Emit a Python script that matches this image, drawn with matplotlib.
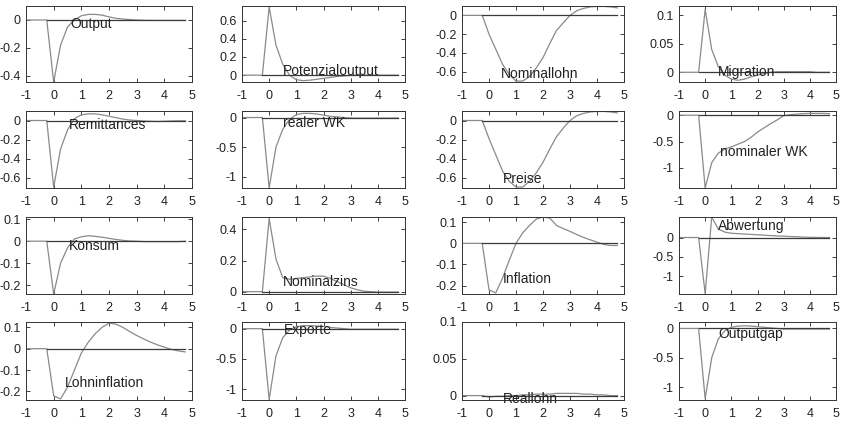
import numpy as np
import matplotlib
matplotlib.use('Agg')
import matplotlib.pyplot as plt

plt.rcParams['font.family'] = ['Liberation Sans', 'DejaVu Sans']
plt.rcParams['axes.unicode_minus'] = False

# quarters after the shock (years), -1 .. 4.75
quarters = np.arange(-1.0, 5.0, 0.25)

output = [0, 0, 0, 0, -0.443, -0.18, -0.05, 0.0, 0.03, 0.04, 0.04, 0.035, 0.022,
          0.012, 0.007, 0.003, 0.0, -0.002, -0.003, -0.003, -0.003, -0.003, -0.003, -0.003]
potenzialoutput = [0, 0, 0, 0, 0.75, 0.33, 0.12, 0.0, -0.05, -0.06, -0.055, -0.045, -0.035,
                   -0.025, -0.015, -0.008, -0.002, 0.0, 0.0, 0.0, 0.0, 0.0, 0.0, 0.0]
nominallohn = [0, 0, 0, 0, -0.2, -0.36, -0.52, -0.63, -0.7, -0.7, -0.65, -0.56, -0.45,
               -0.3, -0.16, -0.08, 0.0, 0.05, 0.075, 0.09, 0.095, 0.095, 0.09, 0.08]
migration = [0, 0, 0, 0, 0.11, 0.04, 0.01, -0.005, -0.012, -0.014, -0.012, -0.008, -0.005,
             -0.002, 0.0, 0.001, 0.001, 0.001, 0.001, 0.001, 0.001, 0.0, 0.0, 0.0]
remittances = [0, 0, 0, 0, -0.7, -0.3, -0.1, 0.02, 0.06, 0.07, 0.07, 0.06, 0.045,
               0.03, 0.015, 0.005, 0.0, -0.005, -0.008, -0.01, -0.008, -0.005, -0.003, -0.002]
realer_wk = [0, 0, 0, 0, -1.19, -0.5, -0.2, -0.03, 0.05, 0.07, 0.07, 0.06, 0.04,
             0.02, 0.01, 0.0, -0.01, -0.01, -0.01, -0.01, -0.01, -0.01, -0.01, -0.01]
preise = [0, 0, 0, 0, -0.19, -0.36, -0.53, -0.64, -0.7, -0.7, -0.64, -0.55, -0.44,
          -0.3, -0.17, -0.08, 0.0, 0.05, 0.075, 0.09, 0.095, 0.095, 0.09, 0.08]
nominaler_wk = [0, 0, 0, 0, -1.38, -0.9, -0.72, -0.64, -0.6, -0.55, -0.5, -0.42, -0.32,
                -0.24, -0.16, -0.09, -0.01, 0.01, 0.02, 0.03, 0.035, 0.035, 0.035, 0.03]
konsum = [0, 0, 0, 0, -0.24, -0.1, -0.03, 0.01, 0.02, 0.025, 0.022, 0.018, 0.013,
          0.008, 0.004, 0.001, 0.0, -0.002, -0.002, -0.002, -0.002, -0.002, -0.002, 0.0]
nominalzins = [0, 0, 0, 0, 0.47, 0.21, 0.09, 0.08, 0.085, 0.09, 0.095, 0.1, 0.1,
               0.085, 0.065, 0.045, 0.025, 0.012, 0.003, 0.0, -0.003, -0.003, -0.003, -0.003]
inflation = [0, 0, 0, 0, -0.22, -0.235, -0.165, -0.08, 0.0, 0.05, 0.085, 0.115, 0.125,
             0.12, 0.085, 0.07, 0.057, 0.042, 0.028, 0.017, 0.006, -0.005, -0.01, -0.01]
abwertung = [0, 0, 0, 0, -1.45, 0.53, 0.22, 0.14, 0.11, 0.1, 0.09, 0.08, 0.07,
             0.06, 0.05, 0.04, 0.035, 0.025, 0.02, 0.01, 0.005, 0.002, 0.0, 0.0]
lohninflation = [0, 0, 0, 0, -0.22, -0.235, -0.18, -0.1, -0.02, 0.03, 0.07, 0.1, 0.12,
                 0.115, 0.1, 0.08, 0.062, 0.046, 0.031, 0.018, 0.007, -0.003, -0.01, -0.015]
exporte = [0, 0, 0, 0, -1.17, -0.45, -0.15, -0.02, 0.03, 0.05, 0.05, 0.045, 0.035,
           0.02, 0.01, 0.0, -0.01, -0.01, -0.01, -0.01, -0.01, -0.01, -0.01, -0.01]
reallohn = [0, 0, 0, 0, -0.002, -0.001, -0.001, 0.0, 0.0, 0.001, 0.001, 0.002, 0.002,
            0.002, 0.003, 0.003, 0.003, 0.003, 0.002, 0.002, 0.001, 0.001, 0.0, 0.0]
outputgap = [0, 0, 0, 0, -1.2, -0.5, -0.18, -0.04, 0.02, 0.04, 0.045, 0.04, 0.03,
             0.02, 0.01, 0.0, -0.01, -0.01, -0.01, -0.01, -0.01, -0.01, -0.01, -0.01]

names = ['Output', 'Potenzialoutput', 'Nominallohn', 'Migration',
         'Remittances', 'realer WK', 'Preise', 'nominaler WK',
         'Konsum', 'Nominalzins', 'Inflation', 'Abwertung',
         'Lohninflation', 'Exporte', 'Reallohn', 'Outputgap']
series = [output, potenzialoutput, nominallohn, migration,
          remittances, realer_wk, preise, nominaler_wk,
          konsum, nominalzins, inflation, abwertung,
          lohninflation, exporte, reallohn, outputgap]
ylims = [(-0.443, 0.1), (-0.075, 0.76), (-0.71, 0.1), (-0.017, 0.116),
         (-0.71, 0.1), (-1.19, 0.11), (-0.71, 0.1), (-1.38, 0.08),
         (-0.24, 0.11), (-0.015, 0.48), (-0.24, 0.125), (-1.46, 0.53),
         (-0.24, 0.125), (-1.18, 0.11), (-0.006, 0.1), (-1.22, 0.11)]
yticks = [[-0.4, -0.2, 0], [0, 0.2, 0.4, 0.6], [-0.6, -0.4, -0.2, 0], [0, 0.05, 0.1],
          [-0.6, -0.4, -0.2, 0], [-1, -0.5, 0], [-0.6, -0.4, -0.2, 0], [-1, -0.5, 0],
          [-0.2, -0.1, 0, 0.1], [0, 0.2, 0.4], [-0.2, -0.1, 0, 0.1], [-1, -0.5, 0],
          [-0.2, -0.1, 0, 0.1], [-1, -0.5, 0], [0, 0.05, 0.1], [-1, -0.5, 0]]
# label anchor (x, y) for each panel's text
label_pos = [(0.6, -0.03), (0.5, 0.05), (0.45, -0.62), (0.5, 0.0),
             (0.55, -0.05), (0.5, -0.1), (0.5, -0.62), (0.55, -0.7),
             (0.55, -0.02), (0.5, 0.06), (0.5, -0.17), (0.5, 0.3),
             (0.4, -0.16), (0.55, -0.03), (0.5, -0.004), (0.5, -0.1)]

# axes placement in pixels (left, right) and (top, bottom)
W, H = 846, 422
cols = [(26, 192), (242, 405), (462, 624), (679, 836)]
rows = [(6, 82), (111, 188), (217, 294), (322, 400)]

fig = plt.figure(figsize=(W / 100, H / 100), dpi=100)

for k in range(16):
    r, c = divmod(k, 4)
    x0, x1 = cols[c]
    y0, y1 = rows[r]
    ax = fig.add_axes([x0 / W, 1 - y1 / H, (x1 - x0) / W, (y1 - y0) / H])
    ax.plot(quarters, series[k], color='#8a8a8a', lw=0.9)
    ax.plot([-0.25, 4.75], [0, 0], color='#3a3a3a', lw=0.9)
    ax.set_xlim(-1, 5)
    ax.set_ylim(*ylims[k])
    ax.set_xticks(range(-1, 6))
    ax.set_yticks(yticks[k])
    ax.set_yticklabels(['%g' % v for v in yticks[k]])
    ax.tick_params(direction='in', length=3, width=0.6, top=True, right=True,
                   labelsize=9, colors='#222222')
    ax.tick_params(axis='x', pad=6)
    ax.tick_params(axis='y', pad=4)
    for sp in ax.spines.values():
        sp.set_linewidth(0.7)
        sp.set_color('#333333')
    lx, ly = label_pos[k]
    ax.text(lx, ly, names[k], fontsize=10, color='#222222', va='center', ha='left')

fig.savefig('out.png', dpi=100)
